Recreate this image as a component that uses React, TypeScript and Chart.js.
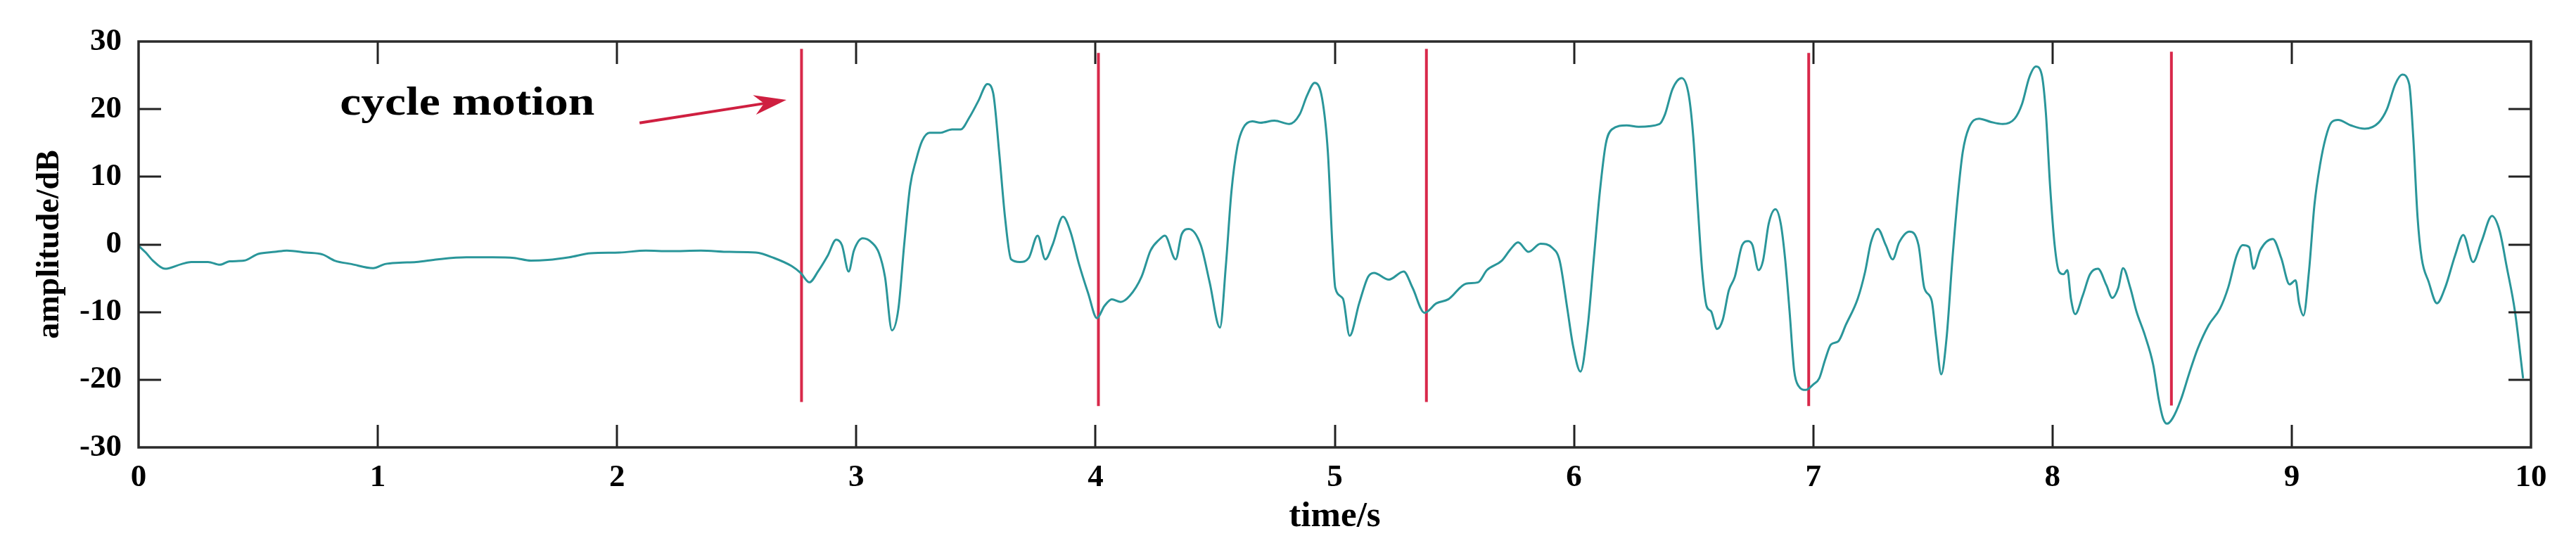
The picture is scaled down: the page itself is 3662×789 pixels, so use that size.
import React, { useEffect, useRef } from "react";
import { Chart, registerables } from "chart.js";

Chart.register(...registerables);

// ---- data ----
const timeS = [
  0, 0.03, 0.06, 0.11, 0.18, 0.22, 0.29, 0.34, 0.38, 0.44, 0.5, 0.57, 0.62, 0.7, 0.77, 0.82, 0.89, 0.98,
  1.03, 1.09, 1.16, 1.25, 1.37, 1.48, 1.57, 1.64, 1.71, 1.8, 1.89, 2.01, 2.12, 2.22, 2.35, 2.47, 2.58,
  2.656, 2.73, 2.767, 2.804, 2.84, 2.88, 2.916, 2.94, 2.968, 2.99, 3.027, 3.064, 3.095, 3.12, 3.149,
  3.176, 3.2, 3.225, 3.25, 3.275, 3.306, 3.35, 3.4, 3.436, 3.473, 3.51, 3.548, 3.572, 3.597, 3.622,
  3.647, 3.684, 3.721, 3.758, 3.79, 3.82, 3.864, 3.895, 3.93, 3.969, 4.006, 4.037, 4.068, 4.105, 4.143,
  4.192, 4.23, 4.266, 4.29, 4.335, 4.36, 4.39, 4.44, 4.477, 4.52, 4.545, 4.568, 4.593, 4.617, 4.655,
  4.69, 4.748, 4.81, 4.853, 4.884, 4.916, 4.947, 4.971, 4.99, 5.002, 5.034, 5.062, 5.102, 5.139, 5.164,
  5.226, 5.288, 5.325, 5.375, 5.425, 5.475, 5.549, 5.599, 5.636, 5.698, 5.735, 5.766, 5.81, 5.86, 5.909,
  5.94, 5.972, 5.996, 6.027, 6.058, 6.083, 6.108, 6.133, 6.158, 6.22, 6.27, 6.357, 6.38, 6.412, 6.45,
  6.48, 6.499, 6.517, 6.536, 6.554, 6.573, 6.598, 6.622, 6.647, 6.672, 6.703, 6.728, 6.746, 6.771, 6.79,
  6.814, 6.842, 6.864, 6.882, 6.901, 6.92, 6.938, 6.969, 7.0, 7.025, 7.05, 7.074, 7.105, 7.136, 7.186,
  7.217, 7.241, 7.27, 7.303, 7.332, 7.359, 7.402, 7.44, 7.464, 7.495, 7.514, 7.535, 7.557, 7.582, 7.606,
  7.625, 7.65, 7.693, 7.743, 7.792, 7.842, 7.873, 7.903, 7.931, 7.955, 7.972, 7.99, 8.009, 8.027, 8.046,
  8.062, 8.077, 8.095, 8.126, 8.157, 8.19, 8.225, 8.25, 8.275, 8.295, 8.325, 8.351, 8.386, 8.421, 8.444,
  8.462, 8.479, 8.502, 8.537, 8.572, 8.607, 8.653, 8.7, 8.735, 8.77, 8.795, 8.822, 8.84, 8.869, 8.921,
  8.956, 8.991, 9.016, 9.031, 9.049, 9.072, 9.095, 9.119, 9.142, 9.165, 9.194, 9.247, 9.305, 9.363,
  9.398, 9.433, 9.462, 9.491, 9.508, 9.526, 9.543, 9.572, 9.607, 9.642, 9.683, 9.717, 9.758, 9.793,
  9.837, 9.869, 9.898, 9.933, 9.967,
];

const amplitudeDb = [
  -0.2, -1.2, -2.4, -3.6, -2.9, -2.6, -2.6, -3.0, -2.5, -2.4, -1.4, -1.1, -0.9, -1.2, -1.5, -2.4, -2.9, -3.5,
  -2.9, -2.7, -2.6, -2.2, -1.9, -1.9, -2.0, -2.4, -2.3, -1.9, -1.3, -1.2, -0.9, -1.0, -0.9, -1.1, -1.2,
  -2.0, -3.2, -4.2, -5.6, -4.0, -1.7, 0.7, -0.1, -4.0, -0.9, 0.9, 0.3, -1.3, -4.8, -12.7,
  -9.5, -0.1, 8.6, 12.5, 15.3, 16.5, 16.5, 17.0, 17.0, 18.8, 21.2, 23.7, 22.4, 13.7, 3.9,
  -2.2, -2.6, -2.0, 1.3, -2.2, -0.1, 4.1, 1.9, -2.8, -7.2, -10.9, -9.1, -8.1, -8.5, -7.6,
  -4.8, -0.9, 0.7, 1.3, -2.2, 1.5, 2.3, -0.1, -5.6, -12.3, -3.0, 7.8, 14.5, 17.2, 18.2,
  18.0, 18.3, 17.8, 19.2, 22.0, 23.9, 21.6, 13.7, -0.1, -6.4, -8.0, -13.5, -8.7, -4.8, -4.2,
  -5.2, -4.0, -6.4, -10.1, -8.7, -8.1, -5.8, -5.6, -3.8, -2.4, -0.7, 0.3, -1.1, 0.1, -0.5,
  -2.4, -9.5, -15.0, -18.8, -11.9, -2.0, 7.8, 14.9, 17.0, 17.6, 17.4, 17.8, 19.2, 23.0, 24.6,
  22.0, 15.7, 5.8, -4.0, -9.1, -9.9, -12.5, -11.1, -6.8, -4.8, -0.1, 0.5, -0.1, -3.8, -2.4,
  3.1, 5.2, 3.1, -2.0, -9.9, -18.6, -20.9, -21.5, -20.7, -19.8, -17.0, -14.8, -14.3, -11.9, -8.0,
  -4.0, 0.3, 2.3, -0.1, -2.2, 0.3, 1.9, -0.1, -6.4, -8.3, -13.9, -19.2, -13.9, -2.0, 7.8,
  13.7, 17.2, 18.6, 18.1, 17.8, 18.6, 20.8, 24.7, 26.3, 25.1, 19.6, 8.6, -0.1, -4.0, -4.4,
  -3.8, -8.0, -10.3, -7.6, -4.4, -3.6, -6.0, -7.9, -6.4, -3.5, -6.4, -9.9, -13.4, -17.8, -22.9,
  -25.7, -26.5, -25.7, -22.9, -19.0, -15.4, -11.9, -9.5, -6.3, -1.6, -0.1, -0.4, -3.6, -0.8, 0.8,
  -2.0, -5.9, -5.3, -8.7, -10.5, -4.0, 5.9, 11.9, 15.8, 18.0, 18.4, 17.6, 17.1, 18.0,
  20.0, 23.7, 25.1, 23.7, 15.8, 4.0, -2.0, -5.5, -8.7, -6.3, -1.6, 1.4, -2.6, 0.4,
  4.2, 2.0, -3.2, -9.9, -19.8,
];

const cycleMarkTimes = [2.771, 4.012, 5.383, 6.981, 8.497];
const cycleMarkTops = [28.9, 28.3, 28.9, 28.3, 28.5];
const cycleMarkBottoms = [-23.3, -23.9, -23.3, -23.9, -23.8];

const xTickValues = [0, 1, 2, 3, 4, 5, 6, 7, 8, 9, 10];
const yTickValues = [-30, -20, -10, 0, 10, 20, 30];

const annotationText = "cycle motion";
const annotationAnchor = [0.842, 19.2]; // left end of text baseline
const annotationEnd = 1.906; // right end of text (time units)
const arrowFrom = [2.094, 17.96];
const arrowTo = [2.708, 21.36];

const xTitle = "time/s";
const yTitle = "amplitude/dB";

// ---- styles ----
const FONT = '"Liberation Serif", "Times New Roman", serif';
const TEAL = "#2a969a";
const RED = "#d8284a";

const overlayPlugin = {
  id: "overlayPlugin",
  afterDatasetsDraw(chart: any) {
    const { ctx, chartArea, scales } = chart;
    const { left, right, top, bottom } = chartArea;
    const xs = scales.x;
    const ys = scales.y;
    ctx.save();

    // inward ticks on all four sides
    ctx.strokeStyle = "#222";
    ctx.lineWidth = 3;
    ctx.beginPath();
    const TL = 32;
    for (const v of xTickValues) {
      if (v === xs.min || v === xs.max) continue;
      const px = Math.round(xs.getPixelForValue(v));
      ctx.moveTo(px, bottom);
      ctx.lineTo(px, bottom - TL);
      ctx.moveTo(px, top);
      ctx.lineTo(px, top + TL);
    }
    for (const v of yTickValues) {
      if (v === ys.min || v === ys.max) continue;
      const py = Math.round(ys.getPixelForValue(v));
      ctx.moveTo(left, py);
      ctx.lineTo(left + TL, py);
      ctx.moveTo(right, py);
      ctx.lineTo(right - TL, py);
    }
    ctx.stroke();

    // frame
    ctx.strokeStyle = "#2a2a2a";
    ctx.lineWidth = 3.5;
    ctx.strokeRect(left, top, right - left, bottom - top);

    // arrow
    const x0 = xs.getPixelForValue(arrowFrom[0]);
    const y0 = ys.getPixelForValue(arrowFrom[1]);
    const x1 = xs.getPixelForValue(arrowTo[0]);
    const y1 = ys.getPixelForValue(arrowTo[1]);
    const dx = x1 - x0;
    const dy = y1 - y0;
    const len = Math.hypot(dx, dy);
    const ux = dx / len;
    const uy = dy / len;
    const nx = -uy;
    const ny = ux;
    const headLen = 46;
    const headHalf = 14;
    ctx.strokeStyle = "#cf1f40";
    ctx.fillStyle = "#cf1f40";
    ctx.lineWidth = 4;
    ctx.beginPath();
    ctx.moveTo(x0, y0);
    ctx.lineTo(x1 - ux * headLen * 0.6, y1 - uy * headLen * 0.6);
    ctx.stroke();
    ctx.beginPath();
    ctx.moveTo(x1, y1);
    ctx.lineTo(x1 - ux * headLen + nx * headHalf, y1 - uy * headLen + ny * headHalf);
    ctx.lineTo(x1 - ux * headLen * 0.7, y1 - uy * headLen * 0.7);
    ctx.lineTo(x1 - ux * headLen - nx * headHalf, y1 - uy * headLen - ny * headHalf);
    ctx.closePath();
    ctx.fill();

    // annotation text
    ctx.font = `bold 56px ${FONT}`;
    ctx.fillStyle = "#000";
    ctx.textBaseline = "alphabetic";
    ctx.textAlign = "left";
    const ax = xs.getPixelForValue(annotationAnchor[0]);
    const ay = ys.getPixelForValue(annotationAnchor[1]);
    const targetW = xs.getPixelForValue(annotationEnd) - ax;
    const w = ctx.measureText(annotationText).width;
    ctx.translate(ax, ay);
    ctx.scale(targetW / w, 1);
    ctx.fillText(annotationText, 0, 0);

    ctx.restore();
  },
};

export default function App() {
  const canvasRef = useRef<HTMLCanvasElement | null>(null);

  useEffect(() => {
    if (!canvasRef.current) return;
    const datasets: any[] = [
      {
        label: "amplitude",
        data: timeS.map((t, i) => ({ x: t, y: amplitudeDb[i] })),
        borderColor: TEAL,
        borderWidth: 3,
        pointRadius: 0,
        fill: false,
        cubicInterpolationMode: "monotone",
      },
    ];
    cycleMarkTimes.forEach((t, i) => {
      datasets.push({
        label: `cycle ${i + 1}`,
        data: [
          { x: t, y: cycleMarkTops[i] },
          { x: t, y: cycleMarkBottoms[i] },
        ],
        borderColor: RED,
        borderWidth: 4,
        pointRadius: 0,
        fill: false,
        tension: 0,
      });
    });

    const tickFont = { family: FONT, size: 45, weight: "bold" as const };

    const chart = new Chart(canvasRef.current, {
      type: "line",
      data: { datasets },
      options: {
        animation: false,
        responsive: false,
        devicePixelRatio: 1,
        events: [],
        layout: { padding: { left: 0, top: 45, right: 56, bottom: 0 } },
        plugins: {
          legend: { display: false },
          tooltip: { enabled: false },
        },
        scales: {
          x: {
            type: "linear",
            min: 0,
            max: 10,
            grid: { display: false, drawTicks: false },
            border: { display: false },
            ticks: {
              font: tickFont,
              color: "#000",
              padding: 16,
              maxRotation: 0,
              autoSkip: false,
            },
            afterBuildTicks: (s: any) => {
              s.ticks = xTickValues.map((v) => ({ value: v }));
            },
            afterFit: (s: any) => {
              s.height = 145;
            },
            title: {
              display: true,
              text: xTitle,
              color: "#000",
              font: { family: FONT, size: 51, weight: "bold" },
              padding: { top: 0, bottom: 16 },
            },
          },
          y: {
            type: "linear",
            min: -30,
            max: 30,
            grid: { display: false, drawTicks: false },
            border: { display: false },
            ticks: {
              font: tickFont,
              color: "#000",
              padding: 24,
            },
            afterBuildTicks: (s: any) => {
              s.ticks = yTickValues.map((v) => ({ value: v }));
            },
            afterFit: (s: any) => {
              s.width = 189;
            },
            title: {
              display: true,
              text: yTitle,
              color: "#000",
              font: { family: FONT, size: 46, weight: "bold" },
              padding: { top: 36, bottom: 0 },
            },
          },
        },
      },
      plugins: [overlayPlugin],
    });

    return () => chart.destroy();
  }, []);

  return (
    <div style={{ width: 3646, height: 773 }}>
      <canvas
        ref={canvasRef}
        width={3646}
        height={773}
        style={{ display: "block", width: 3646, height: 773 }}
      />
    </div>
  );
}
